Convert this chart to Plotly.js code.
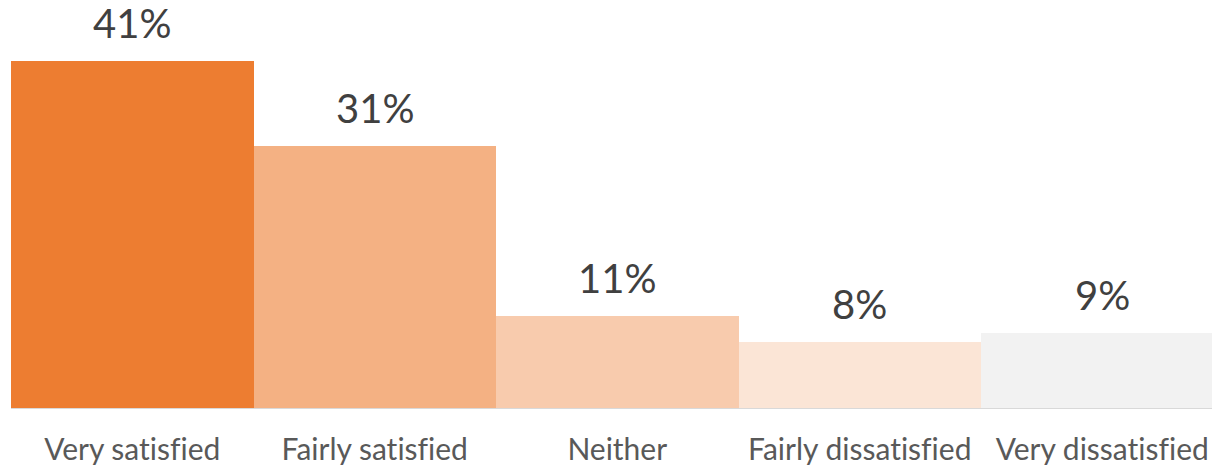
<!DOCTYPE html>
<html>
<head>
<meta charset="utf-8">
<script src="https://cdn.plot.ly/plotly-3.0.1.min.js"></script>
<style>
  html, body { margin: 0; padding: 0; background: #ffffff; }
  #chart { width: 1212px; height: 466px; }
  #chart text { font-variant-ligatures: none; font-feature-settings: "liga" 0; }
</style>
</head>
<body>
<div id="chart"></div>
<script>
const categories = ["Very satisfied", "Fairly satisfied", "Neither", "Fairly dissatisfied", "Very dissatisfied"];
const values = [41.1, 31.0, 10.9, 7.8, 8.9];
const valueLabels = ["41%", "31%", "11%", "8%", "9%"];
const barColors = ["#ED7D31", "#F4B183", "#F8CBAD", "#FBE5D6", "#F2F2F2"];

const FONT = "Lato, 'Open Sans', sans-serif";

const trace = {
  type: "bar",
  x: categories,
  y: values,
  width: 1,
  marker: { color: barColors, line: { width: 0 } },
  hoverinfo: "none",
  cliponaxis: false
};

const annotations = categories.map((c, i) => ({
  x: c,
  y: values[i],
  xref: "x",
  yref: "y",
  text: valueLabels[i],
  showarrow: false,
  xanchor: "center",
  yanchor: "bottom",
  yshift: 12,
  font: { family: FONT, size: 40, color: "#404040" }
}));

const layout = {
  width: 1212,
  height: 466,
  margin: { l: 11, r: 0, t: 0, b: 58 },
  paper_bgcolor: "#ffffff",
  plot_bgcolor: "#ffffff",
  showlegend: false,
  bargap: 0,
  xaxis: {
    type: "category",
    range: [-0.5, 4.4526],
    showline: true,
    linecolor: "#d9d9d9",
    linewidth: 1,
    ticks: "",
    ticklabelstandoff: 15,
    showgrid: false,
    zeroline: false,
    tickfont: { family: FONT, size: 30, color: "#595959" },
    fixedrange: true
  },
  yaxis: {
    range: [0, 48.3],
    visible: false,
    showgrid: false,
    zeroline: false,
    fixedrange: true
  },
  annotations: annotations
};

Plotly.newPlot("chart", [trace], layout, { displayModeBar: false, staticPlot: true });
</script>
</body>
</html>
